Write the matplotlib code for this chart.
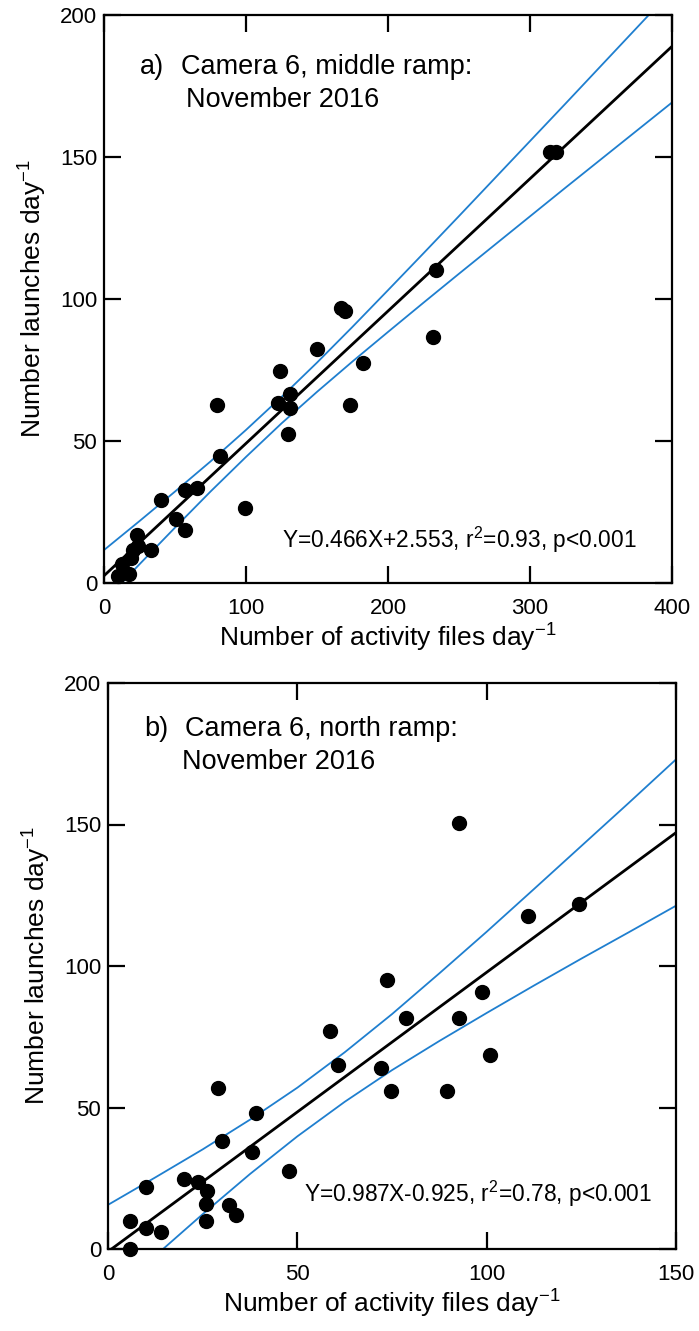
import matplotlib
matplotlib.use('Agg')
import matplotlib.pyplot as plt
import numpy as np

plt.rcParams['font.family'] = ['Liberation Sans', 'DejaVu Sans']
plt.rcParams['mathtext.fontset'] = 'custom'
plt.rcParams['mathtext.rm'] = 'Liberation Sans'
plt.rcParams['mathtext.it'] = 'Liberation Sans:italic'

# ---- panel a: camera 6, middle ramp ----
files_a = [314.4, 318.4, 233.6, 231.8, 166.9, 170.0, 150.0, 182.7, 123.6, 79.5,
           173.2, 122.8, 131.2, 131.2, 129.4, 81.4, 99.2, 65.6, 56.7, 39.9,
           50.7, 57.2, 23.1, 33.1, 20.5, 19.2, 12.6, 10.0, 17.8, 24.0]
launch_a = [151.6, 151.6, 110.3, 86.7, 96.8, 95.7, 82.5, 77.6, 74.7, 62.7,
            62.7, 63.5, 66.7, 61.5, 52.3, 44.6, 26.4, 33.4, 32.9, 29.4,
            22.7, 18.5, 16.8, 11.5, 11.7, 8.7, 6.6, 2.4, 3.1, 13.0]
slope_a, icept_a = 0.466, 2.553
# blue bands
band_x_a = [0, 25, 50, 75, 100, 125, 150, 175, 200, 225, 250, 275, 300, 325, 350, 375, 400]
band_hi_a = [11.6, 21.8, 32.2, 42.8, 53.9, 65.5, 77.6, 90.2, 103.1, 116.1, 129.2, 142.4,
             155.6, 168.8, 182.1, 195.4, 208.7]
band_lo_a = [-6.5, 6.6, 19.5, 32.2, 44.4, 56.2, 67.3, 78.0, 88.4, 98.7, 108.9, 119.0,
             129.1, 139.2, 149.2, 159.2, 169.2]
text_a = 'Y=0.466X+2.553, r$^2$=0.93, p<0.001'

# ---- panel b: camera 6, north ramp ----
files_b = [92.8, 124.5, 110.8, 73.7, 98.8, 78.8, 92.8, 58.7, 100.9, 60.8,
           72.0, 74.7, 89.6, 29.0, 39.1, 30.0, 38.1, 47.9, 20.0, 23.7,
           26.1, 25.9, 31.9, 33.7, 25.9, 10.1, 5.9, 10.1, 14.0, 5.9]
launch_b = [150.4, 121.8, 117.6, 95.0, 90.8, 81.8, 81.8, 77.1, 68.7, 64.9,
            63.8, 55.9, 55.9, 56.8, 48.0, 38.3, 34.1, 27.5, 24.7, 23.7,
            20.5, 15.9, 15.4, 11.9, 9.8, 21.9, 9.8, 7.5, 5.9, 0.0]
slope_b, icept_b = 0.987, -0.925
band_x_b = [0, 12.5, 25, 37.5, 50, 62.5, 75, 87.5, 100, 112.5, 125, 137.5, 150]
band_hi_b = [15.6, 25.3, 35.2, 45.7, 57.0, 69.5, 83.0, 97.4, 112.1, 127.2, 142.4, 157.6, 173.0]
band_lo_b = [-17.4, -2.4, 12.3, 26.5, 39.8, 52.0, 63.2, 73.5, 83.4, 93.1, 102.6, 111.9, 121.3]
text_b = 'Y=0.987X-0.925, r$^2$=0.78, p<0.001'

blue = '#1f7fcf'


def panel(ax, xs, ys, slope, icept, bx, bhi, blo, xmax, xstep, letter, title, month, stats,
          title_y, month_x, stats_pos):
    xline = np.array([max(0.0, -icept / slope), xmax])
    ax.plot(bx, bhi, color=blue, lw=1.3)
    ax.plot(bx, blo, color=blue, lw=1.3)
    ax.plot(xline, slope * xline + icept, color='black', lw=2.0)
    ax.plot(xs, ys, 'o', color='black', ms=10, clip_on=False, zorder=5)

    ax.set_xlim(0, xmax)
    ax.set_ylim(0, 200)
    ax.set_xticks(np.arange(0, xmax + 1, xstep))
    ax.set_yticks(np.arange(0, 201, 50))
    ax.tick_params(direction='in', length=12, width=1.6, top=True, right=True,
                   labelsize=16, pad=5)
    ax.tick_params(axis='x', pad=11)
    for s in ax.spines.values():
        s.set_linewidth(1.6)

    ax.set_xlabel(r'Number of activity files day$^{-1}$', fontsize=19, labelpad=2)
    ax.set_ylabel(r'Number launches day$^{-1}$', fontsize=19, labelpad=8)

    ax.text(0.063, title_y, letter, transform=ax.transAxes, fontsize=19.5, va='center')
    ax.text(0.136, title_y, title, transform=ax.transAxes, fontsize=19.5, va='center')
    ax.text(month_x, title_y - 0.058, month, transform=ax.transAxes, fontsize=19.5,
            va='center')
    ax.text(stats_pos[0], stats_pos[1], stats, transform=ax.transAxes, fontsize=16.4,
            va='center', ha='right')


fig = plt.figure(figsize=(6.99, 13.31), dpi=100)
W, H = 699.0, 1331.0
ax_a = fig.add_axes([104 / W, (H - 583) / H, 568 / W, 568 / H])
ax_b = fig.add_axes([108 / W, (H - 1249) / H, 568 / W, 566 / H])

panel(ax_a, files_a, launch_a, slope_a, icept_a, band_x_a, band_hi_a, band_lo_a,
      400, 100, 'a)', 'Camera 6, middle ramp:', 'November 2016', text_a,
      0.908, 0.145, (0.938, 0.076))
panel(ax_b, files_b, launch_b, slope_b, icept_b, band_x_b, band_hi_b, band_lo_b,
      150, 50, 'b)', 'Camera 6, north ramp:', 'November 2016', text_b,
      0.918, 0.13, (0.958, 0.097))

fig.savefig('out.png', dpi=100)
